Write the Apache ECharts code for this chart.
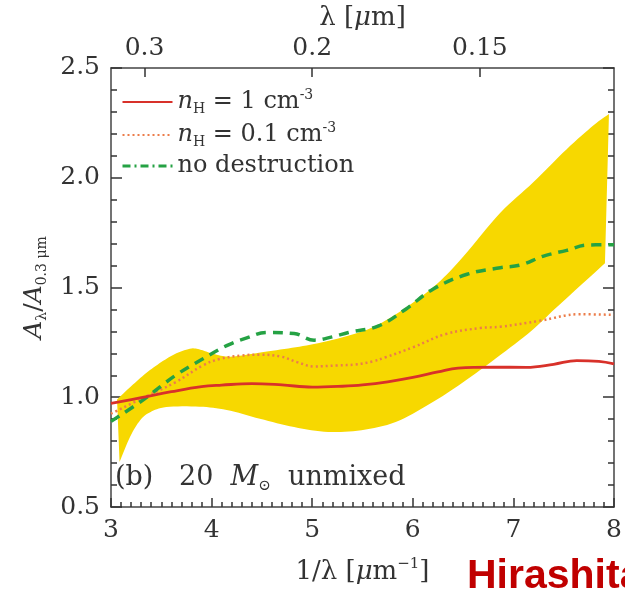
<!DOCTYPE html>
<html><head><meta charset="utf-8">
<script src="https://cdn.jsdelivr.net/npm/echarts@6/dist/echarts.min.js"></script>
<style>html,body{margin:0;padding:0;background:#fff}#c{width:625px;height:592px}</style>
</head><body><div id="c"></div>
<script>
// ---- data ----
const xTicks = [3, 4, 5, 6, 7, 8];
const yTicks = [0.5, 1.0, 1.5, 2.0, 2.5];
const topLambda = [0.3, 0.2, 0.15];

const redX = [3.0,3.3,3.6,3.9,4.1,4.4,4.7,5.0,5.3,5.5,5.75,6.0,6.25,6.45,6.8,7.13,7.4,7.63,7.85,8.0];
const redY = [0.972,0.998,1.025,1.048,1.055,1.062,1.056,1.046,1.05,1.056,1.07,1.09,1.115,1.133,1.137,1.136,1.15,1.167,1.163,1.152];

const orangeX = [3.0,3.3,3.64,3.91,4.08,4.3,4.48,4.69,4.85,5.02,5.25,5.43,5.6,5.73,6.0,6.33,6.67,6.87,7.26,7.66,8.0];
const orangeY = [0.925,0.993,1.068,1.144,1.174,1.19,1.194,1.185,1.16,1.14,1.145,1.149,1.163,1.182,1.227,1.288,1.315,1.321,1.348,1.378,1.375];

const greenX = [3.0,3.31,3.64,3.91,4.15,4.35,4.55,4.82,5.02,5.2,5.36,5.66,5.93,6.2,6.54,6.87,7.07,7.3,7.53,7.73,8.0];
const greenY = [0.89,0.985,1.099,1.174,1.235,1.27,1.295,1.29,1.26,1.275,1.295,1.325,1.401,1.492,1.56,1.59,1.602,1.643,1.669,1.693,1.695];

const bandUpperX = [3.06,3.2,3.35,3.5,3.65,3.8,3.9,4.0,4.15,4.3,4.5,4.8,5.1,5.5,5.75,6.0,6.25,6.5,6.87,7.2,7.53,7.8,7.95];
const bandUpperY = [0.99,1.05,1.11,1.16,1.20,1.222,1.215,1.20,1.185,1.19,1.205,1.225,1.25,1.30,1.355,1.43,1.52,1.64,1.84,1.98,2.13,2.24,2.29];
const bandLowerX = [3.085,3.19,3.29,3.39,3.55,3.88,4.15,4.48,4.82,5.16,5.49,5.83,6.17,6.5,6.84,7.18,7.43,7.91];
const bandLowerY = [0.705,0.82,0.895,0.932,0.955,0.957,0.942,0.902,0.864,0.842,0.85,0.887,0.97,1.068,1.182,1.303,1.41,1.61];

const zip = (xs, ys) => xs.map((x, i) => [x, ys[i]]);

const SERIF = 'DejaVu Serif';
const TXT = '#333';
const AX = '#444';

const chart = echarts.init(document.getElementById('c'));

// Catmull-Rom densify in pixel space
function spline(pts, n) {
  const out = [];
  for (let i = 0; i < pts.length - 1; i++) {
    const p0 = pts[Math.max(i - 1, 0)], p1 = pts[i], p2 = pts[i + 1], p3 = pts[Math.min(i + 2, pts.length - 1)];
    for (let k = 0; k < n; k++) {
      const t = k / n, t2 = t * t, t3 = t2 * t;
      out.push([0, 1].map(d => 0.5 * ((2 * p1[d]) + (-p0[d] + p2[d]) * t + (2 * p0[d] - 5 * p1[d] + 4 * p2[d] - p3[d]) * t2 + (-p0[d] + 3 * p1[d] - 3 * p2[d] + p3[d]) * t3)));
    }
  }
  out.push(pts[pts.length - 1]);
  return out;
}

const mkRich = (fs, lh) => ({
  i: {fontFamily: SERIF, fontStyle: 'italic', fontSize: fs, color: TXT, lineHeight: lh, verticalAlign: 'middle'},
  t: {fontFamily: SERIF, fontSize: fs, color: TXT, lineHeight: lh, verticalAlign: 'middle'},
  sub: {fontFamily: SERIF, fontSize: Math.round(fs * 0.58), color: TXT, lineHeight: Math.round(fs * 0.5), verticalAlign: 'bottom'},
  sup: {fontFamily: SERIF, fontSize: Math.round(fs * 0.58), color: TXT, lineHeight: Math.round(fs * 0.5), verticalAlign: 'top'}
});

const legendText = {
  'n1': '{i|n}{sub|H}{t| = 1 cm}{sup|-3}',
  'n01': '{i|n}{sub|H}{t| = 0.1 cm}{sup|-3}',
  'nd': '{t|no destruction}'
};

const yTickSet = new Set(yTicks.map(v => v.toFixed(1)));

const tick = () => ({color: '#333', width: 1.5});

const option = {
  animation: false,
  backgroundColor: '#fff',
  grid: {left: 111, right: 11, top: 66, bottom: 85, show: false},
  legend: {
    orient: 'vertical', left: 116, top: 83, itemWidth: 50, itemHeight: 14, itemGap: 5,
    itemStyle: {opacity: 0},
    data: [
      {name: 'n1'},
      {name: 'n01'},
      {name: 'nd', lineStyle: {type: [8, 4, 2, 4], width: 3, color: '#25a244'}}
    ],
    formatter: n => legendText[n],
    textStyle: {rich: mkRich(24, 28)}
  },
  xAxis: [
    {type: 'value', min: 3, max: 8, interval: 1, position: 'bottom',
     name: '{t|1/λ [}{i|μ}{t|m}{sup|−1}{t|]}', nameLocation: 'middle', nameGap: 50,
     nameTextStyle: {rich: mkRich(26, 30)},
     axisLine: {show: true, onZero: false, lineStyle: {color: AX, width: 1.5}},
     axisTick: {show: true, inside: true, length: 9, lineStyle: tick()},
     minorTick: {show: true, splitNumber: 10, length: 5, lineStyle: tick()},
     splitLine: {show: false},
     axisLabel: {fontFamily: SERIF, fontSize: 25, color: TXT, margin: 11,
       formatter: v => xTicks.includes(v) ? String(v) : ''}},
    {type: 'value', min: 3, max: 8, position: 'top',
     name: '{t|λ [}{i|μ}{t|m]}', nameLocation: 'middle', nameGap: 34,
     nameTextStyle: {rich: mkRich(26, 30)},
     axisLine: {show: true, onZero: false, lineStyle: {color: AX, width: 1.5}},
     axisTick: {show: true, inside: true, length: 9, lineStyle: tick(), customValues: topLambda.map(l => 1 / l)},
     splitLine: {show: false},
     axisLabel: {fontFamily: SERIF, fontSize: 25, color: TXT, margin: 7,
       customValues: topLambda.map(l => 1 / l),
       formatter: v => { const l = topLambda.find(q => Math.abs(1 / q - v) < 1e-6); return l !== undefined ? String(l) : ''; }}}
  ],
  yAxis: [
    {type: 'value', min: 0.5, max: 2.5, interval: 0.5, position: 'left',
     name: '{i|A}{sub|λ}{t|/}{i|A}{sub|0.3 μm}', nameLocation: 'middle', nameGap: 60, nameRotate: 90,
     nameTextStyle: {rich: mkRich(25, 30)},
     axisLine: {show: true, onZero: false, lineStyle: {color: AX, width: 1.5}},
     axisTick: {show: true, inside: true, length: 11, lineStyle: tick()},
     minorTick: {show: true, splitNumber: 5, length: 6, lineStyle: tick()},
     splitLine: {show: false},
     axisLabel: {fontFamily: SERIF, fontSize: 25, color: TXT, margin: 11,
       formatter: v => yTickSet.has(v.toFixed(1)) ? v.toFixed(1) : ''}},
    {type: 'value', min: 0.5, max: 2.5, interval: 0.5, position: 'right',
     axisLine: {show: true, onZero: false, lineStyle: {color: AX, width: 1.5}},
     axisTick: {show: true, inside: true, length: 11, lineStyle: tick()},
     minorTick: {show: true, splitNumber: 5, length: 6, lineStyle: tick()},
     splitLine: {show: false},
     axisLabel: {show: false}}
  ],
  series: [
    {type: 'custom', name: 'band', silent: true, xAxisIndex: 0, yAxisIndex: 0,
     data: [0],
     renderItem: (params, api) => {
       const up = spline(zip(bandUpperX, bandUpperY).map(p => api.coord(p)), 8);
       const lo = spline(zip(bandLowerX, bandLowerY).map(p => api.coord(p)), 8);
       return {
         type: 'polygon',
         shape: {points: up.concat(lo.reverse())},
         style: {fill: '#f7d800', stroke: null}
       };
     }, z: 1},
    {type: 'line', name: 'n1', data: zip(redX, redY), smooth: 0.4, symbol: 'none',
     lineStyle: {color: '#d8312a', width: 2.8}, itemStyle: {color: '#d8312a'}, z: 4},
    {type: 'line', name: 'n01', data: zip(orangeX, orangeY), smooth: 0.4, symbol: 'none',
     lineStyle: {color: '#ec7d4a', width: 2.5, type: [2, 3]}, itemStyle: {color: '#ec7d4a'}, z: 3},
    {type: 'line', name: 'nd', data: zip(greenX, greenY), smooth: 0.4, symbol: 'none',
     lineStyle: {color: '#25a244', width: 3.5, type: [10, 7]}, itemStyle: {color: '#25a244'}, z: 3}
  ],
  graphic: [
    {type: 'text', left: 115, top: 464, z: 10,
     style: {text: '{t|(b)   20  }{i|M}{sub|⊙}{t|  unmixed}', rich: {
       t: {fontFamily: SERIF, fontSize: 27, fill: TXT, lineHeight: 32, verticalAlign: 'middle'},
       i: {fontFamily: SERIF, fontStyle: 'italic', fontSize: 27, fill: TXT, lineHeight: 32, verticalAlign: 'middle'},
       sub: {fontFamily: SERIF, fontSize: 15, fill: TXT, lineHeight: 12, verticalAlign: 'bottom'}}}},
    {type: 'text', x: 467, y: 556, z: 10,
     style: {text: 'Hirashita', font: 'bold 41px "Liberation Sans"', fill: '#c00000', verticalAlign: 'top'}}
  ]
};
chart.setOption(option);
</script></body></html>
